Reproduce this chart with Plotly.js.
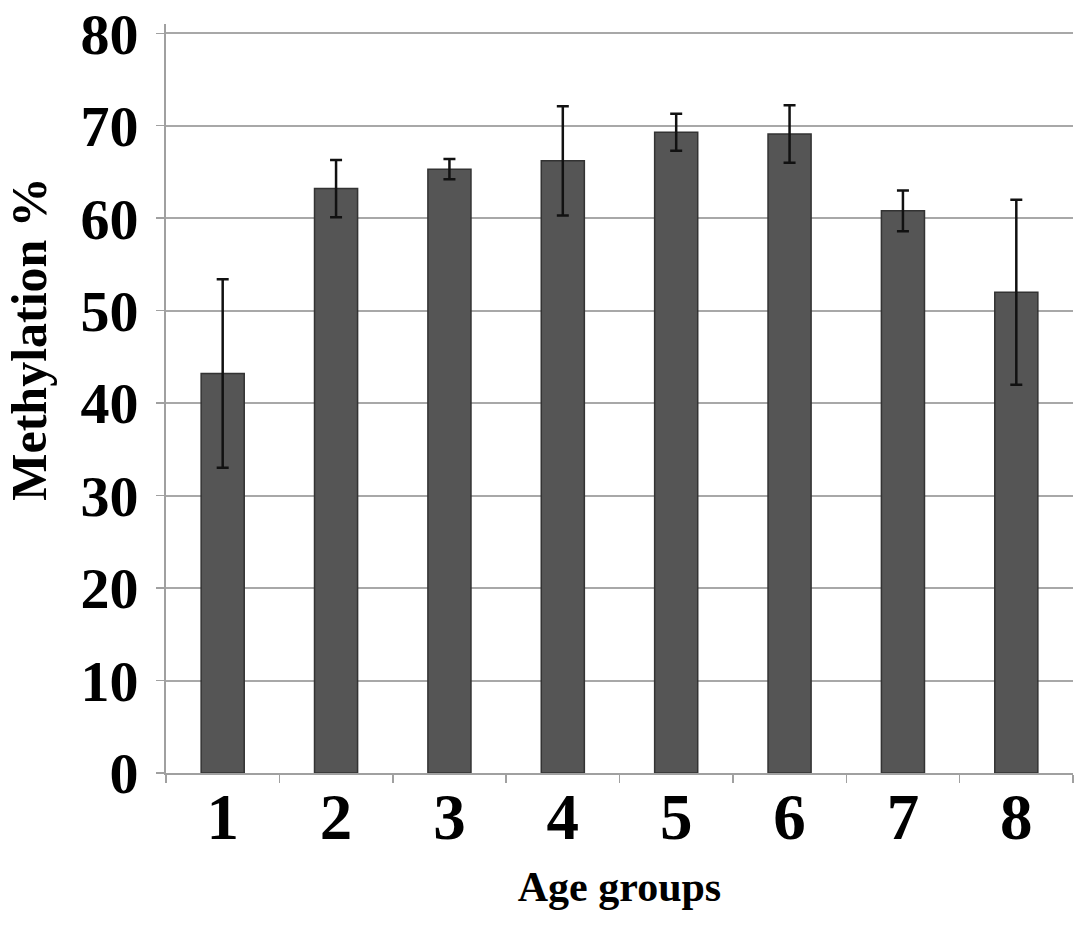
<!DOCTYPE html>
<html>
<head>
<meta charset="utf-8">
<script src="https://cdn.plot.ly/plotly-3.0.1.min.js"></script>
<style>html,body{margin:0;padding:0;background:#fff;}#chart{width:1087px;height:925px;}</style>
</head>
<body>
<div id="chart"></div>
<script>
const categories = ["1", "2", "3", "4", "5", "6", "7", "8"];
const methylation = [43.2, 63.2, 65.3, 66.2, 69.3, 69.1, 60.8, 52.0];
const errors = [10.2, 3.1, 1.1, 5.9, 2.0, 3.1, 2.2, 10.0];
const yTicks = [0, 10, 20, 30, 40, 50, 60, 70, 80];
const xTitle = 'Age groups';
const yTitle = 'Methylation %';

const fontFam = '"Liberation Serif", "Times New Roman", serif';

const trace = {
  type: 'bar',
  x: categories,
  y: methylation,
  width: 0.38,
  marker: {color: '#555555', line: {color: '#333333', width: 1.5}},
  error_y: {type: 'data', array: errors, visible: true, color: '#111111', thickness: 2.5, width: 6},
  hoverinfo: 'x+y'
};

const layout = {
  width: 1087, height: 925,
  margin: {l: 166, r: 14, t: 24, b: 152},
  paper_bgcolor: '#ffffff', plot_bgcolor: '#ffffff',
  showlegend: false,
  xaxis: {
    type: 'category',
    tickson: 'boundaries',
    ticks: 'outside', ticklen: 8, tickwidth: 1.5, tickcolor: '#a0a0a0',
    showline: true, linecolor: '#a0a0a0', linewidth: 2,
    showgrid: false,
    tickfont: {family: fontFam, size: 65, color: '#000', weight: 'bold'},
    ticklabelstandoff: -14,
    title: {text: xTitle, font: {family: fontFam, size: 42, color: '#000', weight: 'bold'}, standoff: 20}
  },
  yaxis: {
    range: [0, 81],
    tickvals: yTicks,
    ticktext: yTicks.map(String),
    ticks: 'outside', ticklen: 8, tickwidth: 1.5, tickcolor: '#a0a0a0',
    showline: true, linecolor: '#a0a0a0', linewidth: 2,
    showgrid: true, gridcolor: '#a8a8a8', gridwidth: 2,
    zeroline: false,
    ticklabeloverflow: 'allow',
    tickfont: {family: fontFam, size: 58, color: '#000', weight: 'bold'},
    ticklabelstandoff: 6
  },
  annotations: [{
    text: yTitle, textangle: -90,
    xref: 'paper', yref: 'paper',
    x: -0.152, y: 0.58, xanchor: 'center', yanchor: 'middle',
    showarrow: false,
    font: {family: fontFam, size: 50, color: '#000', weight: 'bold'}
  }]
};

Plotly.newPlot('chart', [trace], layout, {displayModeBar: false, staticPlot: true});
</script>
</body>
</html>
